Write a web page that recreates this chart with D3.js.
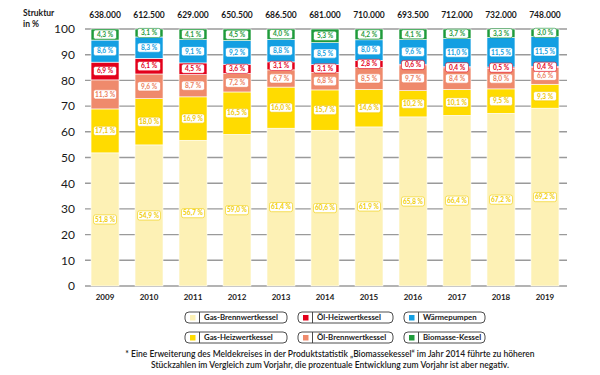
<!DOCTYPE html>
<html>
<head>
<meta charset="utf-8">
<script src="https://cdn.jsdelivr.net/npm/d3@7"></script>
<style>
  body { margin: 0; background: #fff; }
  svg { font-family: Lato, "Open Sans", sans-serif; }
</style>
</head>
<body>
<div id="chart"></div>
<script>
// Jahre und Gesamtabsatz
const years = ["2009", "2010", "2011", "2012", "2013", "2014", "2015", "2016", "2017", "2018", "2019"];
const totals = ["638.000", "612.500", "629.000", "650.500", "686.500", "681.000", "710.000", "693.500", "712.000", "732.000", "748.000"];

// Anteile in %, von unten nach oben gestapelt
const gasBrennwert = [51.8, 54.9, 56.7, 59.0, 61.4, 60.6, 61.9, 65.8, 66.4, 67.2, 69.2];
const gasHeizwert  = [17.1, 18.0, 16.9, 16.5, 16.0, 15.7, 14.6, 10.2, 10.1, 9.5, 9.3];
const oelBrennwert = [11.3, 9.6, 8.7, 7.2, 6.7, 6.8, 8.5, 9.7, 8.4, 8.0, 6.6];
const oelHeizwert  = [6.9, 6.1, 4.5, 3.6, 3.1, 3.1, 2.8, 0.6, 0.4, 0.5, 0.4];
const waermepumpen = [8.6, 8.3, 9.1, 9.2, 8.8, 8.5, 8.0, 9.6, 11.0, 11.5, 11.5];
const biomasse     = [4.3, 3.1, 4.1, 4.5, 4.0, 5.3, 4.2, 4.1, 3.7, 3.3, 3.0];

const yTicks = [0, 10, 20, 30, 40, 50, 60, 70, 80, 90, 100];

const series = [
  { key: "gb", name: "Gas-Brennwertkessel", values: gasBrennwert, color: "#fdf1b5", text: "#f0cd00" },
  { key: "gh", name: "Gas-Heizwertkessel", values: gasHeizwert, color: "#ffdb00", text: "#f0c800" },
  { key: "ob", name: "Öl-Brennwertkessel", values: oelBrennwert, color: "#ef8a6c", text: "#ec7f60" },
  { key: "oh", name: "Öl-Heizwertkessel", values: oelHeizwert, color: "#e3001b", text: "#e3001b" },
  { key: "wp", name: "Wärmepumpen", values: waermepumpen, color: "#139fe2", text: "#139fe2" },
  { key: "bm", name: "Biomasse-Kessel", values: biomasse, color: "#1f9b3b", text: "#1f9b3b" }
];

// Legendenreihenfolge wie im Original
const legendOrder = [["gb", "oh", "wp"], ["gh", "ob", "bm"]];

const width = 600, height = 375;
const svg = d3.select("#chart").append("svg")
  .attr("width", width)
  .attr("height", height);

const x = d3.scaleBand()
  .domain(years)
  .range([84, 566])
  .paddingInner(0.364)
  .paddingOuter(0.16);

const y = d3.scaleLinear()
  .domain([0, 100])
  .range([286, 29]);

// Gitterlinien
svg.append("g")
  .selectAll("line")
  .data(yTicks)
  .join("line")
  .attr("x1", 85)
  .attr("x2", 567)
  .attr("y1", d => y(d))
  .attr("y2", d => y(d))
  .attr("stroke", "#9a9a9a")
  .attr("stroke-width", 1.4);

// y-Achse Beschriftung
svg.append("g")
  .selectAll("text")
  .data(yTicks)
  .join("text")
  .attr("x", 75)
  .attr("y", d => y(d))
  .attr("dy", "0.36em")
  .attr("text-anchor", "end")
  .attr("font-size", "12px")
  .attr("fill", "#1a1a1a")
  .text(d => d);

svg.append("text")
  .attr("x", 23).attr("y", 16)
  .attr("font-size", "8.5px").attr("font-weight", 700).attr("fill", "#1a1a1a")
  .text("Struktur");
svg.append("text")
  .attr("x", 23).attr("y", 27)
  .attr("font-size", "8.5px").attr("font-weight", 700).attr("fill", "#1a1a1a")
  .text("in %");

// Stapeldaten
const table = years.map((yr, i) => {
  const row = { year: yr };
  series.forEach(s => { row[s.key] = s.values[i]; });
  return row;
});
const stacked = d3.stack().keys(series.map(s => s.key))(table);

const layers = svg.append("g")
  .selectAll("g")
  .data(stacked)
  .join("g")
  .attr("fill", (d, i) => series[i].color);

layers.selectAll("rect")
  .data(d => d)
  .join("rect")
  .attr("x", d => x(d.data.year))
  .attr("width", x.bandwidth())
  .attr("y", d => y(d[1]))
  .attr("height", d => y(d[0]) - y(d[1]))
  .attr("stroke", "#fff")
  .attr("stroke-width", 0.6);

// Wertelabels
const fmt = v => v.toFixed(1).replace(".", ",") + " %";
stacked.forEach((layer, i) => {
  const s = series[i];
  const g = svg.append("g");
  layer.forEach(d => {
    const cx = x(d.data.year) + x.bandwidth() / 2;
    const cy = y((d[0] + d[1]) / 2);
    const lg = g.append("g").attr("transform", `translate(${cx},${cy})`);
    lg.append("rect")
      .attr("x", -11.5).attr("y", -4.6)
      .attr("width", 23).attr("height", 9.2)
      .attr("rx", 2)
      .attr("fill", "#fff")
      .attr("stroke", s.text)
      .attr("stroke-width", 0.6);
    lg.append("text")
      .attr("text-anchor", "middle")
      .attr("dy", "0.35em")
      .attr("font-size", "6.6px")
      .attr("font-weight", 700)
      .attr("fill", s.text)
      .text(fmt(d.data[s.key]));
  });
});

// Summen oben
svg.append("g")
  .selectAll("text")
  .data(years)
  .join("text")
  .attr("x", d => x(d) + x.bandwidth() / 2)
  .attr("y", 18)
  .attr("text-anchor", "middle")
  .attr("font-size", "8.5px")
  .attr("font-weight", 700)
  .attr("fill", "#1a1a1a")
  .text((d, i) => totals[i]);

// Jahre unten
svg.append("g")
  .selectAll("text")
  .data(years)
  .join("text")
  .attr("x", d => x(d) + x.bandwidth() / 2)
  .attr("y", 300)
  .attr("text-anchor", "middle")
  .attr("font-size", "8px")
  .attr("font-weight", 700)
  .attr("fill", "#1a1a1a")
  .text(d => d);

// Legende
const colX = [185, 298, 404];
const colW = [102, 95, 81];
const rowY = [312, 332];
legendOrder.forEach((row, r) => {
  row.forEach((key, c) => {
    const s = series.find(e => e.key === key);
    const g = svg.append("g").attr("transform", `translate(${colX[c]},${rowY[r]})`);
    g.append("rect")
      .attr("width", colW[c]).attr("height", 11)
      .attr("rx", 4)
      .attr("fill", "#fff")
      .attr("stroke", "#3a3a3a")
      .attr("stroke-width", 0.9);
    g.append("rect")
      .attr("x", 5).attr("y", 3)
      .attr("width", 5.5).attr("height", 5.5)
      .attr("fill", s.color);
    g.append("line")
      .attr("x1", 14.5).attr("x2", 14.5)
      .attr("y1", 0).attr("y2", 11)
      .attr("stroke", "#3a3a3a")
      .attr("stroke-width", 0.9);
    g.append("text")
      .attr("x", 19).attr("y", 5.5)
      .attr("dy", "0.35em")
      .attr("font-size", "7.8px")
      .attr("font-weight", 700)
      .attr("fill", "#1a1a1a")
      .text(s.name);
  });
});

// Fußnote
const notes = [
  "* Eine Erweiterung des Meldekreises in der Produktstatistik „Biomassekessel“ im Jahr 2014 führte zu höheren",
  "Stückzahlen im Vergleich zum Vorjahr, die prozentuale Entwicklung zum Vorjahr ist aber negativ."
];
svg.append("g")
  .selectAll("text")
  .data(notes)
  .join("text")
  .attr("x", 330)
  .attr("y", (d, i) => 357 + i * 11)
  .attr("text-anchor", "middle")
  .attr("font-size", "8.5px")
  .attr("font-weight", 600)
  .attr("fill", "#1a1a1a")
  .text(d => d);
</script>
</body>
</html>
